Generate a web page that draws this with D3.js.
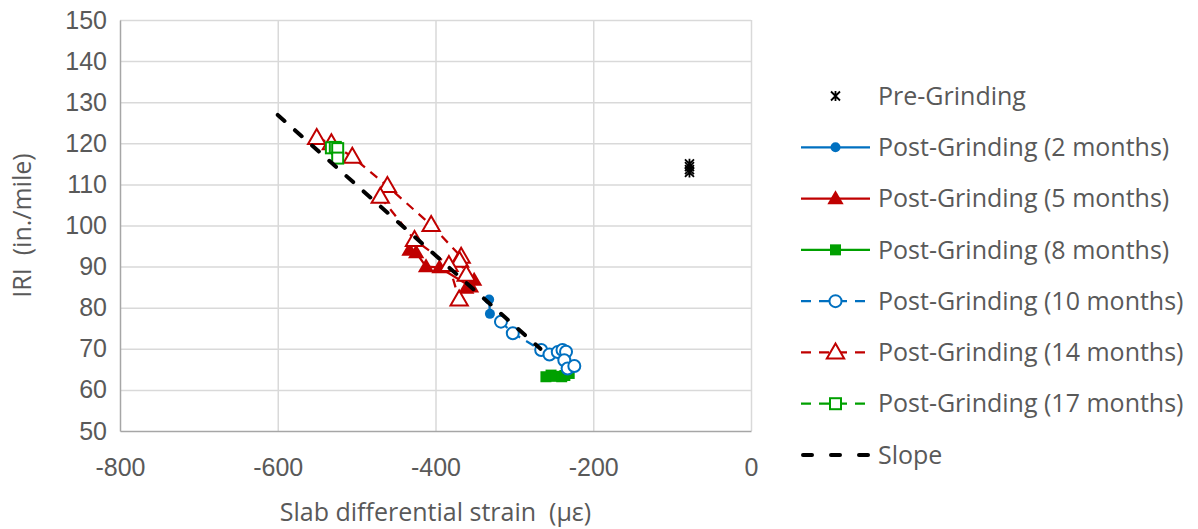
<!DOCTYPE html>
<html>
<head>
<meta charset="utf-8">
<script src="https://cdn.jsdelivr.net/npm/d3@7"></script>
<style>
  html, body { margin: 0; padding: 0; background: #fff; }
  svg { display: block; font-family: "Open Sans", "Noto Sans", sans-serif; }
  .tick text { fill: #595959; }
  .keep-space { white-space: pre; }
</style>
</head>
<body>
<svg id="chart" width="1198" height="529"></svg>
<script>
// ---- data: [strain (µε), IRI (in./mile)] ----
const preGrinding = [[-78, 115.0], [-78, 114.3], [-78, 113.6], [-78, 112.9]];
const post2 = [[-332, 82.0], [-331, 78.5]];
const post5 = [[-433, 94.0], [-424.5, 93.4], [-412, 90.0], [-395, 89.8], [-355, 85.1], [-361, 84.8], [-351, 86.7]];
const post8 = [[-260, 63.2], [-253.5, 63.6], [-247, 63.3], [-240, 63.2], [-236, 63.5], [-230.5, 64.0]];
const post10 = [[-317, 76.6], [-302, 73.8], [-266, 69.7], [-255.5, 68.6], [-245, 69.2], [-239, 69.7],
                [-234.5, 69.3], [-236.7, 67.2], [-232.5, 65.2], [-224, 65.8]];
// null marks a break in the connecting line
const post14 = [[-550.6, 121.3], [-532, 120.0], [-505.5, 116.7], [-461, 109.6], [-405.5, 100.1],
                [-367.5, 92.4], [-369.5, 91.4], [-361, 88.0], null,
                [-470, 107.0], [-426.6, 96.5], [-383, 90.4], [-370, 82.0]];
const post17 = [[-532, 118.9], [-527, 119.0], [-524, 118.7], [-524, 116.4]];
const slope = [[-600, 126.9], [-267, 70.0]];

const xTicks = [-800, -600, -400, -200, 0];
const yTicks = [50, 60, 70, 80, 90, 100, 110, 120, 130, 140, 150];
const seriesNames = ["Pre-Grinding", "Post-Grinding (2 months)", "Post-Grinding (5 months)",
  "Post-Grinding (8 months)", "Post-Grinding (10 months)", "Post-Grinding (14 months)",
  "Post-Grinding (17 months)", "Slope"];

const BLUE = "#0070C0", RED = "#C00000", GREEN = "#00A000";
const FONT = 25;

const svg = d3.select("#chart");
const x = d3.scaleLinear().domain([-800, 0]).range([120, 751]);
const y = d3.scaleLinear().domain([50, 150]).range([431, 20]);
const plain = d => String(d);   // hyphen-minus, as in the printed labels

// gridlines
svg.append("g").attr("transform", `translate(0,${y(50)})`)
  .call(d3.axisBottom(x).tickValues(xTicks.slice(1)).tickSize(-(y(50) - y(150))).tickFormat(""))
  .call(g => g.select(".domain").remove())
  .call(g => g.selectAll("line").attr("stroke", "#D9D9D9").attr("stroke-width", 1.5));
svg.append("g").attr("transform", `translate(${x(-800)},0)`)
  .call(d3.axisLeft(y).tickValues(yTicks.slice(1)).tickSize(-(x(0) - x(-800))).tickFormat(""))
  .call(g => g.select(".domain").remove())
  .call(g => g.selectAll("line").attr("stroke", "#D9D9D9").attr("stroke-width", 1.5));

// axes
svg.append("g").attr("transform", `translate(0,${y(50)})`)
  .call(d3.axisBottom(x).tickValues(xTicks).tickFormat(plain).tickSize(0).tickPadding(27).tickSizeOuter(0))
  .call(g => g.select(".domain").attr("stroke", "#A6A6A6").attr("stroke-width", 1.5))
  .call(g => g.selectAll("text").attr("font-size", FONT));
svg.append("g").attr("transform", `translate(${x(-800)},0)`)
  .call(d3.axisLeft(y).tickValues(yTicks).tickFormat(plain).tickSize(0).tickPadding(13).tickSizeOuter(0))
  .call(g => g.select(".domain").attr("stroke", "#A6A6A6").attr("stroke-width", 1.5))
  .call(g => g.selectAll("text").attr("font-size", FONT));

// axis titles
svg.append("text").attr("class", "keep-space").attr("x", (x(-800) + x(0)) / 2).attr("y", 521)
  .attr("text-anchor", "middle").attr("font-size", FONT).attr("fill", "#595959")
  .text("Slab differential strain  (µε)");
svg.append("text").attr("class", "keep-space")
  .attr("transform", `translate(31,${(y(50) + y(150)) / 2}) rotate(-90)`)
  .attr("text-anchor", "middle").attr("font-size", FONT).attr("fill", "#595959")
  .text("IRI  (in./mile)");

const line = d3.line().defined(d => d !== null).x(d => x(d[0])).y(d => y(d[1]));
const plot = svg.append("g");

function drawLine(data, color, dash, width) {
  plot.append("path").datum(data).attr("d", line).attr("fill", "none")
    .attr("stroke", color).attr("stroke-width", width || 2.25)
    .attr("stroke-dasharray", dash || null);
}

const tri = d3.symbol().type(d3.symbolTriangle);
function marker(g, kind, color, cx, cy) {
  if (kind === "dot") {
    g.append("circle").attr("cx", cx).attr("cy", cy).attr("r", 5).attr("fill", color);
  } else if (kind === "ring") {
    g.append("circle").attr("cx", cx).attr("cy", cy).attr("r", 6).attr("fill", "#fff")
      .attr("stroke", color).attr("stroke-width", 2);
  } else if (kind === "tri") {
    g.append("path").attr("d", tri.size(115)()).attr("transform", `translate(${cx},${cy + 1})`)
      .attr("fill", color);
  } else if (kind === "otri") {
    g.append("path").attr("d", tri.size(130)()).attr("transform", `translate(${cx},${cy + 1})`)
      .attr("fill", "#fff").attr("stroke", color).attr("stroke-width", 2);
  } else if (kind === "sq") {
    g.append("rect").attr("x", cx - 5.5).attr("y", cy - 5.5).attr("width", 11).attr("height", 11)
      .attr("fill", color);
  } else if (kind === "osq") {
    g.append("rect").attr("x", cx - 5.5).attr("y", cy - 5.5).attr("width", 11).attr("height", 11)
      .attr("fill", "#fff").attr("stroke", color).attr("stroke-width", 2);
  } else if (kind === "star") {
    const s = 4.5;
    g.append("path").attr("d",
      `M${cx - s},${cy - s}L${cx + s},${cy + s}M${cx - s},${cy + s}L${cx + s},${cy - s}M${cx},${cy - s - 0.5}L${cx},${cy + s + 0.5}`)
      .attr("stroke", "#000").attr("stroke-width", 1.8).attr("fill", "none");
  }
}
function drawMarkers(data, kind, color) {
  data.filter(d => d !== null).forEach(d => marker(plot, kind, color, x(d[0]), y(d[1])));
}

const series = [
  { data: preGrinding, kind: "star", color: "#000", dash: null, lined: false },
  { data: post2, kind: "dot", color: BLUE, dash: null, lined: true },
  { data: post5, kind: "tri", color: RED, dash: null, lined: true },
  { data: post8, kind: "sq", color: GREEN, dash: null, lined: true },
  { data: post10, kind: "ring", color: BLUE, dash: "9,7", lined: true },
  { data: post14, kind: "otri", color: RED, dash: "9,7", lined: true },
  { data: post17, kind: "osq", color: GREEN, dash: "9,7", lined: true }
];

series.forEach(s => {
  if (s.lined) drawLine(s.data, s.color, s.dash);
  drawMarkers(s.data, s.kind, s.color);
});

// fitted slope
plot.append("path").datum(slope).attr("d", line).attr("fill", "none")
  .attr("stroke", "#000").attr("stroke-width", 4).attr("stroke-linecap", "round")
  .attr("stroke-dasharray", "9,14");

// legend
const legend = svg.append("g");
const legendY = d3.scaleLinear().domain([0, 7]).range([96, 455]);
seriesNames.forEach((name, i) => {
  const ly = legendY(i);
  const g = legend.append("g");
  if (i === 7) {
    g.append("line").attr("x1", 803).attr("x2", 870).attr("y1", ly).attr("y2", ly)
      .attr("stroke", "#000").attr("stroke-width", 4).attr("stroke-linecap", "round")
      .attr("stroke-dasharray", "9,19");
  } else {
    const s = series[i];
    if (s.lined) {
      g.append("line").attr("x1", 801).attr("x2", 870).attr("y1", ly).attr("y2", ly)
        .attr("stroke", s.color).attr("stroke-width", 2.25)
        .attr("stroke-dasharray", s.dash ? "10,8" : null);
    }
    marker(g, s.kind, s.color, 835.5, ly);
  }
  g.append("text").attr("x", 878).attr("y", ly).attr("dy", "0.35em")
    .attr("font-size", FONT).attr("fill", "#595959").text(name);
});
</script>
</body>
</html>
